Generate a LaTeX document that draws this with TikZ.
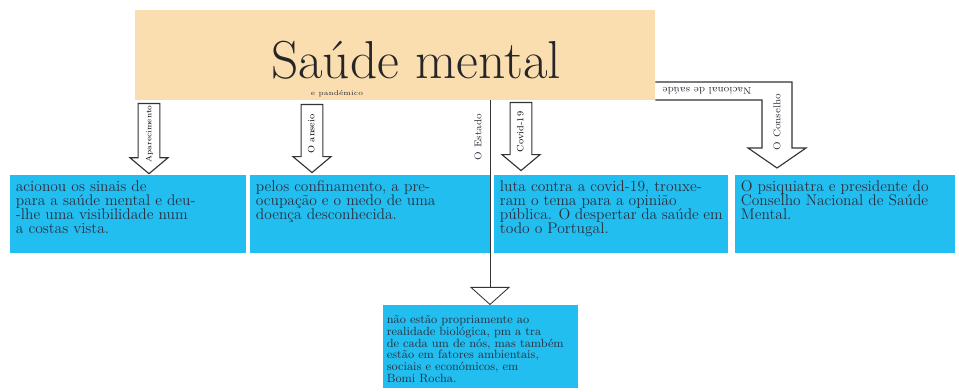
\documentclass[tikz,border=0pt]{standalone}
\usepackage{tikz}
\usetikzlibrary{arrows.meta,calc,positioning,shapes.arrows}
\definecolor{notefill}{RGB}{34,190,240}
\definecolor{titlefill}{RGB}{250,222,175}
\definecolor{ink}{RGB}{45,45,60}
\newcommand{\notetext}[3]{\parbox[c][#2][t]{#1}{\raggedright #3}}

\begin{document}
\begin{tikzpicture}[x=0.025cm,y=-0.025cm,>=Latex,
  note/.style={fill=notefill,anchor=north west,inner sep=4pt,text=ink,font=\fontsize{11}{10}\selectfont},
  topnote/.style={fill=titlefill,minimum width=13cm,minimum height=2.25cm,inner sep=0pt},
  blockarrow/.style={single arrow,draw=black!80,fill=white,thick,rotate=90,shape border rotate=180,
    minimum height=1.7cm,minimum width=0.95cm,single arrow head extend=0.2cm,single arrow tip angle=100,
    text height=5pt,text depth=1.5pt,inner xsep=1pt,inner ysep=4pt,font=\fontsize{6.5}{7}\selectfont},
  handlabel/.style={text=ink,inner sep=1pt,font=\fontsize{7}{8}\selectfont}]
  \fill[white] (0,0) rectangle (959,392);
  \useasboundingbox (0,0) rectangle (959,392);
  % central note
  \node[topnote] (topnote) at (395,55) {};
  \node[text=black!85,inner sep=0pt,font=\fontsize{38}{40}\selectfont] (title) at (416,60) {Saúde mental};
  \node[handlabel,font=\fontsize{5}{6}\selectfont] (pandemico) at (337,94) {e pandémico};
  % notes below
  \node[note] (note1) at (10,175) {\notetext{5.6cm}{1.65cm}{acionou os sinais de\\ para a saúde mental e deu-\\ -lhe uma visibilidade num\\ a costas vista.}};
  \node[note] (note2) at (250,175) {\notetext{5.72cm}{1.65cm}{pelos confinamento, a pre-\\ ocupação e o medo de uma\\ doença desconhecida.}};
  \node[note] (note3) at (494,175) {\notetext{5.57cm}{1.65cm}{luta contra a covid-19, trouxe-\\ ram o tema para a opinião\\ pública. O despertar da saúde em\\ todo o Portugal.}};
  \node[note] (note4) at (735,175) {\notetext{5.22cm}{1.65cm}{O psiquiatra e presidente do\\ Conselho Nacional de Saúde\\ Mental.}};
  \node[note,inner sep=2.5pt,font=\fontsize{8.5}{8.3}\selectfont] (note5) at (383,305) {\notetext{4.7cm}{1.9cm}{\vspace*{5pt}não estão propriamente ao\\ realidade biológica, pm a tra\\ de cada um de nós, mas também\\ estão em fatores ambientais,\\ sociais e económicos, em\\ Bomi Rocha.}};
  % block arrows
  \node[blockarrow,font=\fontsize{5.5}{6}\selectfont] (aparecimento) at (149,134) {Aparecimento};
  \node[blockarrow] (anseio) at (312,134) {O anseio};
  \node[blockarrow] (covid) at (521,132) {Covid-19};
  % bent arrow on the right
  \draw[thick,draw=black!80,fill=white] (topnote.east |- 0,82) -- (792,82) -- (792,148) -- (806,148)
    -- (777,168) -- (748,148) -- (762,148) -- (762,100) -- (topnote.east |- 0,100);
  \node[handlabel,rotate=180] (nacional) at (707,91) {Nacional de saúde};
  \node[handlabel,rotate=90] (conselho) at (777,122) {O Conselho};
  % thin line to the lower note
  \coordinate (estado) at (490,100);
  \draw[black!80,semithick,-{Triangle[open,length=0.45cm,width=1cm]}] (estado) -- (estado |- note5.north);
  \node[handlabel,rotate=90] (estadolabel) at (478,137) {O Estado};
\end{tikzpicture}
\end{document}
